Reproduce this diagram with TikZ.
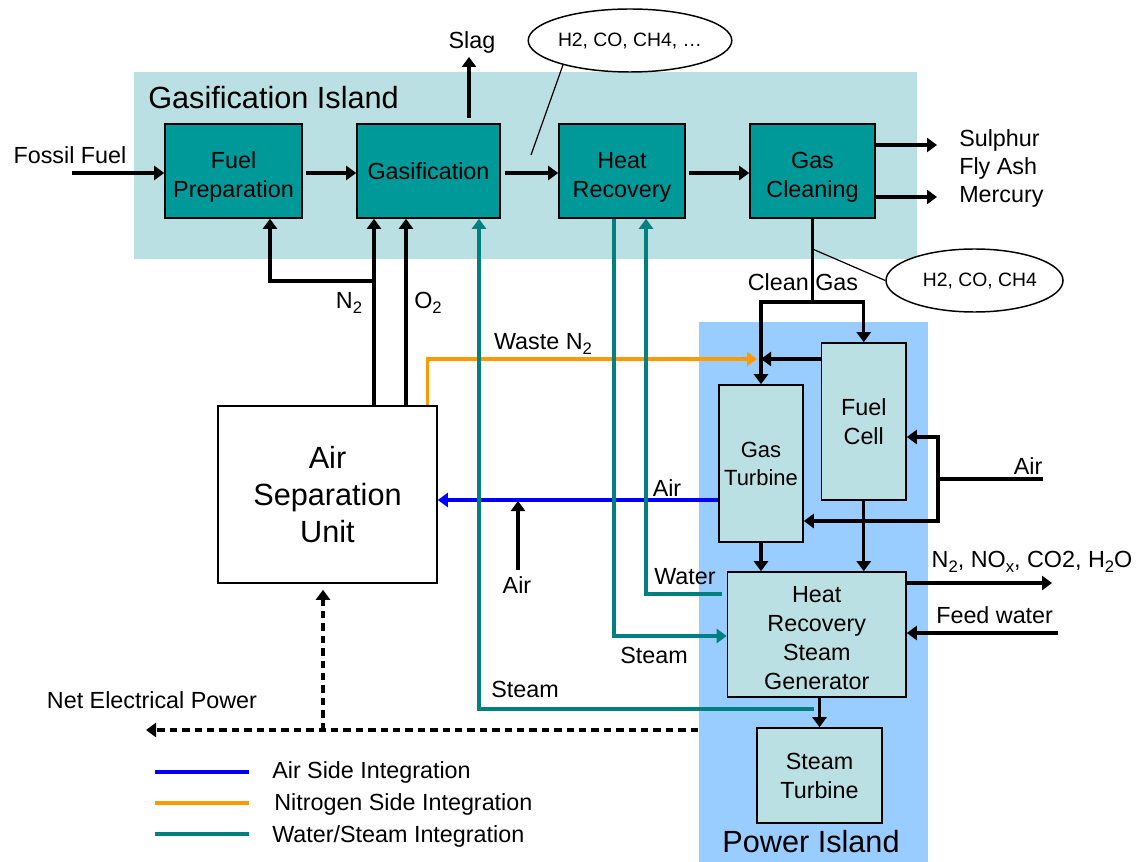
\documentclass[tikz,border=0pt]{standalone}
\usepackage{fontspec}
\setmainfont{Liberation Sans}
\usetikzlibrary{arrows.meta,shapes.geometric,calc}
\definecolor{boxteal}{RGB}{0,153,153}
\definecolor{islandA}{RGB}{187,224,227}
\definecolor{islandB}{RGB}{153,204,255}
\definecolor{tealline}{RGB}{0,128,128}
\definecolor{orng}{RGB}{255,153,0}
\definecolor{blu}{RGB}{0,0,255}
\newcommand{\subs}[1]{\raisebox{-4pt}{\fontsize{12.5}{12.5}\selectfont #1}}
\newcommand{\lowerby}[1]{\rule{0pt}{#1}}
\tikzset{
  txt/.style={font=\fontsize{17.5}{21.75}\selectfont, inner sep=0pt, align=center},
  titletxt/.style={font=\fontsize{23}{28}\selectfont, inner sep=0pt},
  gbox/.style={draw=black, line width=1.2pt, fill=boxteal, align=center, inner sep=0pt,
    font=\fontsize{17.5}{21.75}\selectfont},
  pbox/.style={draw=black, line width=1.2pt, fill=islandA, align=center, inner sep=0pt,
    font=\fontsize{17.5}{21.75}\selectfont},
  tip/.style={-{Triangle[length=7.5pt,width=10.5pt]}},
  ln/.style={line width=2.4pt, black},
  arr/.style={ln, tip},
  oarr/.style={line width=2.3pt, orng, tip},
  barr/.style={line width=2.4pt, blu, tip},
  tarr/.style={line width=2.3pt, tealline, tip},
  darr/.style={line width=2.3pt, dash pattern=on 5.5pt off 3.8pt, tip},
  callout/.style={line width=0.9pt},
  bubble/.style={ellipse, draw, line width=1.1pt, fill=white, inner sep=0pt,
    font=\fontsize{14.5}{17}\selectfont},
}
\begin{document}
\begin{tikzpicture}[x=0.75pt, y=-0.75pt]
\useasboundingbox (0,0) rectangle (1141,862);
% island backgrounds
\fill[islandA] (134,72) rectangle (917,259);
\fill[islandB] (699,322) rectangle (928,862);
\node[titletxt, anchor=west] (gitxt) at (148,98) {Gasification Island};
\node[titletxt] (pitxt) at (811,842) {Power Island};

% gasification island boxes
\node[gbox, minimum width=102.75pt, minimum height=70.5pt] (fp) at (233.5,171) {\lowerby{21.5pt}Fuel\\Preparation};
\node[gbox, minimum width=107.25pt, minimum height=70.5pt] (gas) at (428.5,171) {Gasification};
\node[gbox, minimum width=94.5pt, minimum height=70.5pt] (hr) at (622,171) {\lowerby{21.5pt}Heat\\Recovery};
\node[gbox, minimum width=93.75pt, minimum height=70.5pt] (gc) at (812.5,171) {\lowerby{21.5pt}Gas\\Cleaning};

% power island boxes
\node[pbox, minimum width=63pt, minimum height=117.75pt, font=\fontsize{16.5}{21}\selectfont] (gt) at (761,463.5) {Gas\\Turbine};
\node[pbox, minimum width=63.4pt, minimum height=117.75pt] (fc) at (863.75,421.5) {Fuel\\Cell};
\node[pbox, minimum width=133.9pt, minimum height=93.75pt] (hrsg) at (816.75,634.5) {\lowerby{17pt}Heat\\Recovery\\Steam\\Generator};
\node[pbox, minimum width=93.75pt, minimum height=71.25pt] (st) at (819.5,775.5) {Steam\\Turbine};

% air separation unit
\node[draw=black, line width=1.2pt, fill=white, align=center, inner sep=0pt,
  minimum width=164.25pt, minimum height=132.75pt,
  font=\fontsize{23}{28}\selectfont] (asu) at (327.5,494.5) {Air\\Separation\\Unit};

% fossil fuel
\coordinate (ffin) at (72,173);
\draw[arr] (ffin) -- (fp.west |- ffin);
\node[txt] (fftxt) at (70,155) {Fossil Fuel};

% main chain
\draw[arr] ($(fp.east)+(3,2)$) -- ($(gas.west)+(0,2)$);
\draw[arr] ($(gas.east)+(4,2)$) -- ($(hr.west)+(0,2)$);
\draw[arr] ($(hr.east)+(3,2)$) -- ($(gc.west)+(0,2)$);

% slag
\coordinate (slag) at (469,57);
\draw[arr] ($(gas.north -| slag)+(0,-5)$) -- (slag);
\node[txt] (slagtxt) at (472,42) {Slag};

% raw gas bubble
\node[bubble, minimum width=133.5pt, minimum height=47.25pt] (e1) at (630,40.5) {H2, CO, CH4, \ldots};
\coordinate (c1) at (531,155);
\draw[callout] (e1.200) -- (c1);

% gas cleaning outputs
\coordinate (sul) at (937,145);
\coordinate (mer) at (937,197);
\draw[arr] (gc.east |- sul) -- (sul);
\draw[arr] (gc.east |- mer) -- (mer);
\node[txt, anchor=west] (sultxt) at (959,140) {Sulphur};
\node[txt, anchor=west] (flytxt) at (959,168) {Fly Ash};
\node[txt, anchor=west] (mertxt) at (959,197) {Mercury};

% clean gas
\coordinate (cgj) at (812.5,302);
\draw[arr] (gc.south) -- (cgj) -| (gt.north);
\draw[arr] (cgj) -| (fc.north);
\node[txt] (cgtxt) at (803,282) {Clean Gas};
\node[bubble, minimum width=132.75pt, minimum height=47.25pt] (e2) at (974.5,280.5) {\hspace*{8pt}H2, CO, CH4};
\coordinate (c2) at (812.5,249);
\draw[callout] (c2) -- (e2.west);

% N2 / O2 from ASU
\draw[arr] ($(asu.north)+(46.5,0)$) -- ($(gas.south)+(-54.5,0)$);
\draw[arr] ($(asu.north)+(78.5,0)$) -- ($(gas.south)+(-22.5,0)$);
\coordinate (n2j) at (374,281);
\draw[arr] (n2j) -| ($(fp.south)+(36.5,0)$);
\node[txt] (n2txt) at (349,303) {N\subs{2}};
\node[txt] (o2txt) at (428,303) {O\subs{2}};

% fuel cell exhaust to gas turbine
\coordinate (gtin) at (761,359);
\draw[arr] (fc.west |- gtin) -- (gtin);

% waste nitrogen
\coordinate (wn) at (757,359);
\draw[oarr] ($(asu.north east)+(-10,0)$) |- (wn);
\node[txt] (wntxt) at (543,344) {Waste N\subs{2}};

% air supply to fuel cell and gas turbine
\coordinate (airin) at (1043,479);
\coordinate (airj) at (938,479);
\draw[ln] (airin) -- (airj);
\draw[arr] (airj) |- ($(fc.east)+(0,15.5)$);
\draw[arr] (airj) |- ($(gt.east)+(0,57.5)$);
\node[txt] (airtxt1) at (1028,466) {Air};

% air side integration
\draw[barr] ($(gt.west)+(0,36.5)$) -- ($(asu.east)+(0,5.5)$);
\node[txt] (airtxt2) at (667,488) {Air};
\coordinate (air2) at (518,570);
\coordinate (bl) at (518,501);
\draw[arr] (air2) -- (bl);
\node[txt] (airtxt3) at (517,585) {Air};

% gas turbine / fuel cell to HRSG
\draw[arr] (gt.south) -- (gt.south |- hrsg.north);
\draw[arr] (fc.south) -- (fc.south |- hrsg.north);

% HRSG exhaust and feed water
\coordinate (exh) at (1052,583);
\draw[arr] (hrsg.east |- exh) -- (exh);
\node[txt] (exhtxt) at (1032,562) {N\subs{2}, NO\subs{x}, CO2, H\subs{2}O};
\coordinate (fw) at (1058,633);
\draw[arr] (fw) -- (hrsg.east |- fw);
\node[txt, anchor=west] (fwtxt) at (936,615) {Feed water};

% HRSG to steam turbine
\draw[arr] (hrsg.south -| st.north) -- (st.north);

% water / steam integration
\coordinate (stm) at (814,709);
\draw[tarr] (stm) -| ($(gas.south)+(50.5,0)$);
\node[txt] (stmtxt1) at (525,689) {Steam};
\draw[tarr] ($(hr.south)+(-8,0)$) |- ($(hrsg.west)+(0,1.5)$);
\node[txt] (stmtxt2) at (654,655) {Steam};
\draw[tarr] ($(hrsg.west)+(-4.5,-40.5)$) -| ($(hr.south)+(24,0)$);
\node[txt] (wtrtxt) at (685,577) {Water};

% electrical power
\coordinate (pw) at (698,730);
\coordinate (nep) at (146,730);
\coordinate (dj) at (323,730);
\draw[darr] (pw) -- (nep);
\draw[darr] (dj) -- ($(asu.south)+(-4.5,6)$);
\node[txt] (neptxt) at (152,700) {Net Electrical Power};

% legend
\draw[line width=2.6pt, blu] (155,772) -- (249,772);
\draw[line width=2.6pt, orng] (155,803) -- (249,803);
\draw[line width=2.6pt, tealline] (155,834) -- (249,834);
\node[txt, anchor=west] (lg1) at (272,772) {Air Side Integration};
\node[txt, anchor=west] (lg2) at (274,804) {Nitrogen Side Integration};
\node[txt, anchor=west] (lg3) at (272,836) {Water/Steam Integration};
\end{tikzpicture}
\end{document}
